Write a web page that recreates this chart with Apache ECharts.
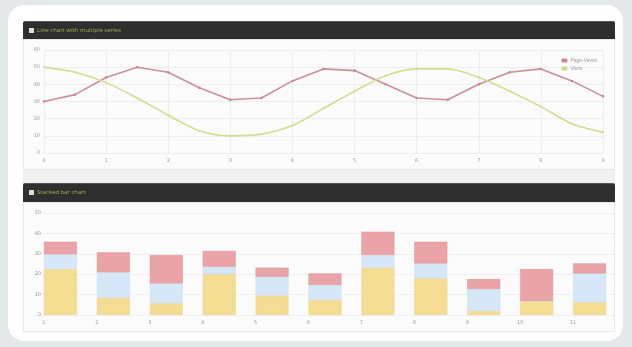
<!DOCTYPE html>
<html>
<head>
<meta charset="utf-8">
<script src="https://cdn.jsdelivr.net/npm/echarts@6/dist/echarts.min.js"></script>
<style>
html,body{margin:0;padding:0;width:632px;height:347px;overflow:hidden;background:#e3e8eb;font-family:"Open Sans","DejaVu Sans",sans-serif;}
.card{position:absolute;left:8px;top:5px;width:615px;height:336px;background:#fff;border-radius:16px;}
.hdr{position:absolute;left:23px;width:592px;background:#2f2f2f;border-radius:2px 2px 0 0;border-top:1px solid #555;box-sizing:border-box;}
.hdr .ic{position:absolute;left:6px;top:6px;width:5px;height:5px;background:#ddd;}
.hdr .t{position:absolute;left:14px;top:3px;font-size:6px;line-height:10px;color:#a3b04a;white-space:nowrap;}
.body{position:absolute;left:23px;width:592px;background:#fbfbfb;border:1px solid #e8e8e8;box-sizing:border-box;}
.strip{position:absolute;left:23px;width:592px;background:#f0f0f0;}
#c{position:absolute;left:0;top:0;width:632px;height:347px;}
</style>
</head>
<body>
<div class="card"></div>
<div class="hdr" style="top:21px;height:18px;"><div class="ic"></div><div class="t">Line chart with multiple series</div></div>
<div class="body" style="top:39px;height:131px;"></div>
<div class="strip" style="top:170px;height:13px;"></div>
<div class="hdr" style="top:183px;height:19px;"><div class="ic"></div><div class="t">Stacked bar chart</div></div>
<div class="body" style="top:202px;height:130px;"></div>
<div id="c"></div>
<script>
// Line chart data
var lineCategories = ['0','0.5','1','1.5','2','2.5','3','3.5','4','4.5','5','5.5','6','6.5','7','7.5','8','8.5','9'];
var pageViews = [30,34,44,50,47,38,31,32,42,49,48,40,32,31,40,47,49,42,33];
var visits    = [50,47,41,32,22,13,10,11,16,26,36,45,49,49,44,36,27,17,12];
var lineYTicks = {min:0, max:60, interval:10};

// Bar chart data
var barCategories = ['1','2','3','4','5','6','7','8','9','10','11'];
var barYellow = [22.5,8.5,5.7,20,9.5,7.4,23.2,18,2,6.9,6.2];
var barBlue   = [7.3,12.4,9.8,3.7,9.3,7.3,6.2,7.3,10.7,0,14.2];
var barRed    = [6.1,9.8,13.9,7.7,4.4,5.7,11.4,10.6,4.9,15.6,4.9];
var barYTicks = {min:0, max:50, interval:10};

var chart = echarts.init(document.getElementById('c'), null, {renderer:'canvas'});
var lbl = {fontSize:5, color:'#a0a0a0', fontFamily:'DejaVu Sans'};
var option = {
  animation:false,
  backgroundColor:'transparent',
  legend:{
    data:['Page-Views','Visits'],
    orient:'vertical', right:30, top:53,
    itemWidth:6, itemHeight:4, itemGap:3, icon:'roundRect',
    textStyle:{fontSize:5, color:'#a0a0a0', padding:[0,0,0,-2]}
  },
  grid:[
    {left:44, right:29, top:50, bottom:194},
    {left:34, right:16, top:213, bottom:32}
  ],
  xAxis:[
    {gridIndex:0, type:'category', data:lineCategories, boundaryGap:false,
     axisLine:{show:false}, axisTick:{show:false},
     axisLabel:Object.assign({interval:1, margin:5}, lbl),
     splitLine:{show:true, interval:1, lineStyle:{color:'#eeeeee', width:1}}},
    {gridIndex:1, type:'category', data:barCategories, boundaryGap:true,
     axisLine:{show:false}, axisTick:{show:false},
     axisLabel:Object.assign({margin:5, padding:[0,33,0,0]}, lbl),
     splitLine:{show:false}}
  ],
  yAxis:[
    {gridIndex:0, type:'value', min:lineYTicks.min, max:lineYTicks.max, interval:lineYTicks.interval,
     axisLine:{show:false}, axisTick:{show:false},
     axisLabel:Object.assign({margin:4}, lbl),
     splitLine:{lineStyle:{color:'#eeeeee', width:1}}},
    {gridIndex:1, type:'value', min:barYTicks.min, max:barYTicks.max, interval:barYTicks.interval,
     axisLine:{show:false}, axisTick:{show:false},
     axisLabel:Object.assign({margin:-7}, lbl),
     splitLine:{lineStyle:{color:'#f0f0f0', width:1}}}
  ],
  series:[
    {name:'Page-Views', type:'line', xAxisIndex:0, yAxisIndex:0, data:pageViews,
     symbol:'circle', symbolSize:2.5, smooth:false,
     lineStyle:{color:'#cd8f98', width:1.6}, itemStyle:{color:'#c98590'}},
    {name:'Visits', type:'line', xAxisIndex:0, yAxisIndex:0, data:visits,
     symbol:'circle', symbolSize:2, smooth:0.3,
     lineStyle:{color:'#d6dc92', width:1.6}, itemStyle:{color:'#d3d98c'}},
    {name:'A', type:'bar', xAxisIndex:1, yAxisIndex:1, stack:'s', data:barYellow, barWidth:33,
     itemStyle:{color:'#f4dc93', borderColor:'#ead08a', borderWidth:0.5}},
    {name:'B', type:'bar', xAxisIndex:1, yAxisIndex:1, stack:'s', data:barBlue, barWidth:33,
     itemStyle:{color:'#d6e8f7', borderColor:'#c9dcec', borderWidth:0.5}},
    {name:'C', type:'bar', xAxisIndex:1, yAxisIndex:1, stack:'s', data:barRed, barWidth:33,
     itemStyle:{color:'#eaa4a7', borderColor:'#d99396', borderWidth:0.5}}
  ]
};
chart.setOption(option);
</script>
</body>
</html>
